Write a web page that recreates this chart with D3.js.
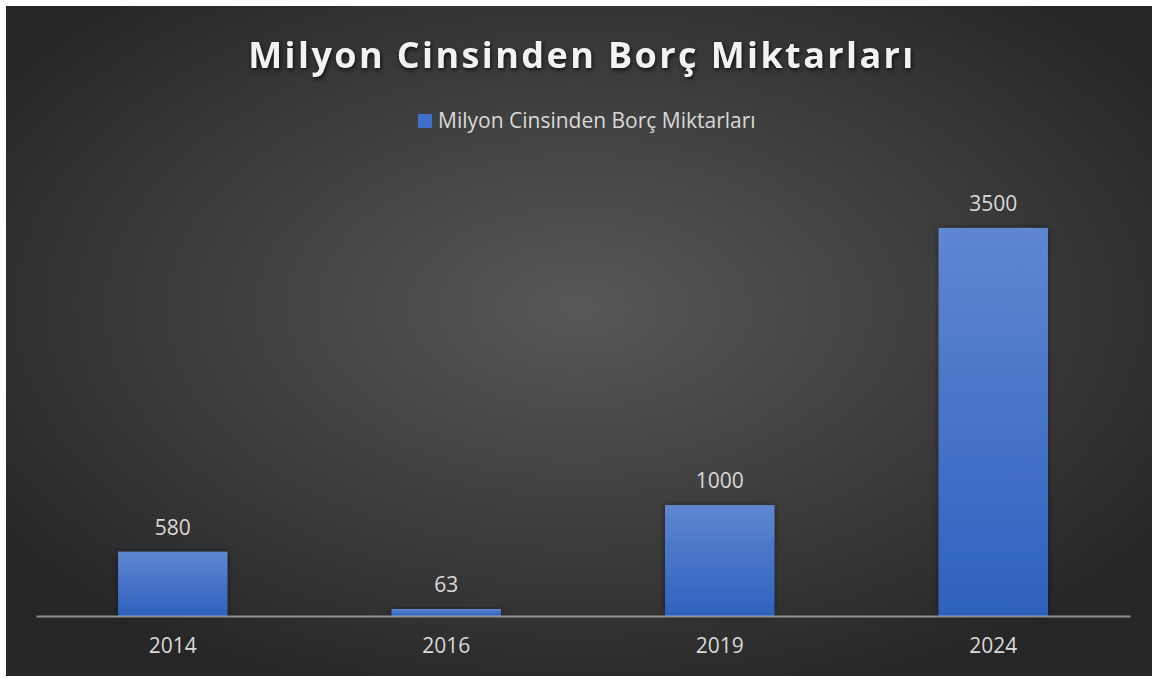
<!DOCTYPE html>
<meta charset="utf-8">
<script src="https://d3js.org/d3.v7.min.js"></script>
<style>
  body { margin: 0; background: #fff; }
  text { font-family: "Open Sans", sans-serif; }
</style>
<div id="my_dataviz"></div>
<script>

// data
const years = ["2014", "2016", "2019", "2024"];
const amounts = [580, 63, 1000, 3500];
const seriesName = "Milyon Cinsinden Borç Miktarları";
const chartTitle = "Milyon Cinsinden Borç Miktarları";

const W = 1152, H = 678;

const svg = d3.select("#my_dataviz")
  .append("svg")
    .attr("width", W)
    .attr("height", H);

const defs = svg.append("defs");

// background radial gradient
const bg = defs.append("radialGradient")
    .attr("id", "bg")
    .attr("cx", "50%").attr("cy", "45%").attr("r", "62%");
bg.append("stop").attr("offset", "0%").attr("stop-color", "#585858");
bg.append("stop").attr("offset", "100%").attr("stop-color", "#262626");

// bar gradient
const bar = defs.append("linearGradient")
    .attr("id", "barGrad")
    .attr("x1", 0).attr("y1", 0).attr("x2", 0).attr("y2", 1);
bar.append("stop").attr("offset", "0%").attr("stop-color", "#5f86d1");
bar.append("stop").attr("offset", "100%").attr("stop-color", "#2e61be");

const shadow = defs.append("filter").attr("id", "shadow")
    .attr("x", "-20%").attr("y", "-20%").attr("width", "140%").attr("height", "140%");
shadow.append("feDropShadow")
    .attr("dx", 0).attr("dy", 0).attr("stdDeviation", 3)
    .attr("flood-color", "#000").attr("flood-opacity", 0.45);

svg.append("rect")
    .attr("x", 6).attr("y", 6)
    .attr("width", W - 6).attr("height", H - 8)
    .attr("fill", "url(#bg)");

// scales
const x = d3.scaleBand()
    .domain(years)
    .range([36, 1130])
    .paddingInner(0.6)
    .paddingOuter(0.3);

const y = d3.scaleLinear()
    .domain([0, 4000])
    .range([616, 172.5]);

// title
svg.append("text")
    .attr("x", 582).attr("y", 68)
    .attr("text-anchor", "middle")
    .style("font-size", "36px")
    .style("font-weight", "bold")
    .style("letter-spacing", "2.4px")
    .attr("fill", "#f2f2f2")
    .style("filter", "drop-shadow(1px 2px 2px rgba(0,0,0,0.7))")
    .text(chartTitle);

// legend
svg.append("rect")
    .attr("x", 418).attr("y", 114)
    .attr("width", 14).attr("height", 14)
    .attr("fill", "#3f6fcb");
svg.append("text")
    .attr("x", 438).attr("y", 128)
    .style("font-size", "21px")
    .attr("fill", "#d9d9d9")
    .text(seriesName);

// bars
svg.selectAll(".bar")
  .data(amounts)
  .join("rect")
    .attr("class", "bar")
    .attr("x", (d, i) => x(years[i]))
    .attr("y", d => y(d))
    .attr("width", x.bandwidth())
    .attr("height", d => y(0) - y(d))
    .attr("fill", "url(#barGrad)")
    .attr("filter", "url(#shadow)");

// value labels
svg.selectAll(".val")
  .data(amounts)
  .join("text")
    .attr("class", "val")
    .attr("x", (d, i) => x(years[i]) + x.bandwidth() / 2)
    .attr("y", d => y(d) - 17)
    .attr("text-anchor", "middle")
    .style("font-size", "21px")
    .attr("fill", "#d9d9d9")
    .text(d => d);

// x axis
const xAxis = svg.append("g")
    .attr("transform", `translate(0, ${y(0)})`)
    .call(d3.axisBottom(x).tickSize(0).tickPadding(22));
xAxis.select(".domain")
    .attr("stroke", "#bfbfbf")
    .attr("stroke-opacity", 0.7)
    .attr("stroke-width", 2);
xAxis.selectAll(".tick text")
    .style("font-family", "Open Sans, sans-serif")
    .style("font-size", "21px")
    .attr("fill", "#d9d9d9");

</script>
